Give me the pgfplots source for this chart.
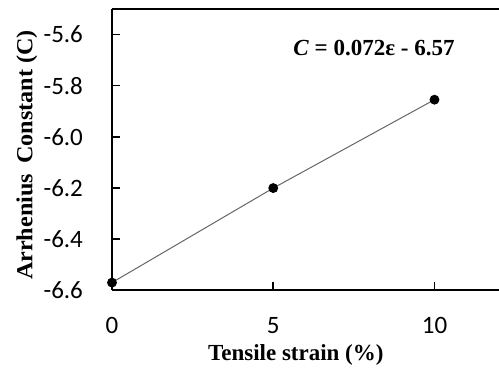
\documentclass[border=0pt]{standalone}
\usepackage{fontspec}
\setmainfont{Liberation Serif}
\newfontfamily\carlito{Carlito}
\usepackage{pgfplots}
\pgfplotsset{compat=1.18}
\begin{document}
\begin{tikzpicture}
\useasboundingbox (-56pt,-39.5pt) rectangle (193.5pt,145pt);
\begin{axis}[
  at={(0,0)}, anchor=south west,
  scale only axis, width=193.5pt, height=140.5pt,
  xmin=0, xmax=12, ymin=-6.6, ymax=-5.5,
  axis x line*=box, axis y line*=left,
  axis line style={line width=1pt, black},
  xtick={5,10}, extra x ticks={0}, extra x tick style={major tick length=0pt},
  ytick={-6.6,-6.4,-6.2,-6.0,-5.8,-5.6},
  tick align=inside, major tick length=4pt,
  tick style={black, line width=0.8pt},
  xtick pos=bottom, ytick pos=left,
  /pgf/number format/assume math mode=true,
  yticklabel style={/pgf/number format/.cd, fixed, fixed zerofill, precision=1, /tikz/.cd, font=\carlito\fontsize{12.5}{14}\selectfont, xshift=-11pt},
  xticklabel style={font=\carlito\fontsize{12.5}{14}\selectfont, yshift=-10pt},
  clip=false,
]
\addplot[gray!80!black, line width=0.5pt, mark=*, mark size=2.2pt, mark options={fill=black, draw=black}]
  coordinates {(0,-6.571) (5,-6.201) (10,-5.855)};
\node[font=\bfseries\fontsize{11.5}{13}\selectfont, rotate=90] at (rel axis cs:-0.22,0.48) {\scalebox{1.05}[1]{Arrhenius\, Constant (C)}};
\node[font=\bfseries\fontsize{11.5}{13}\selectfont] at (rel axis cs:0.475,-0.231) {Tensile strain (\%)};
\node[font=\bfseries\fontsize{11.5}{13}\selectfont] at (rel axis cs:0.677,0.861) {\textit{C} = 0.072ε - 6.57};
\end{axis}
\end{tikzpicture}
\end{document}
